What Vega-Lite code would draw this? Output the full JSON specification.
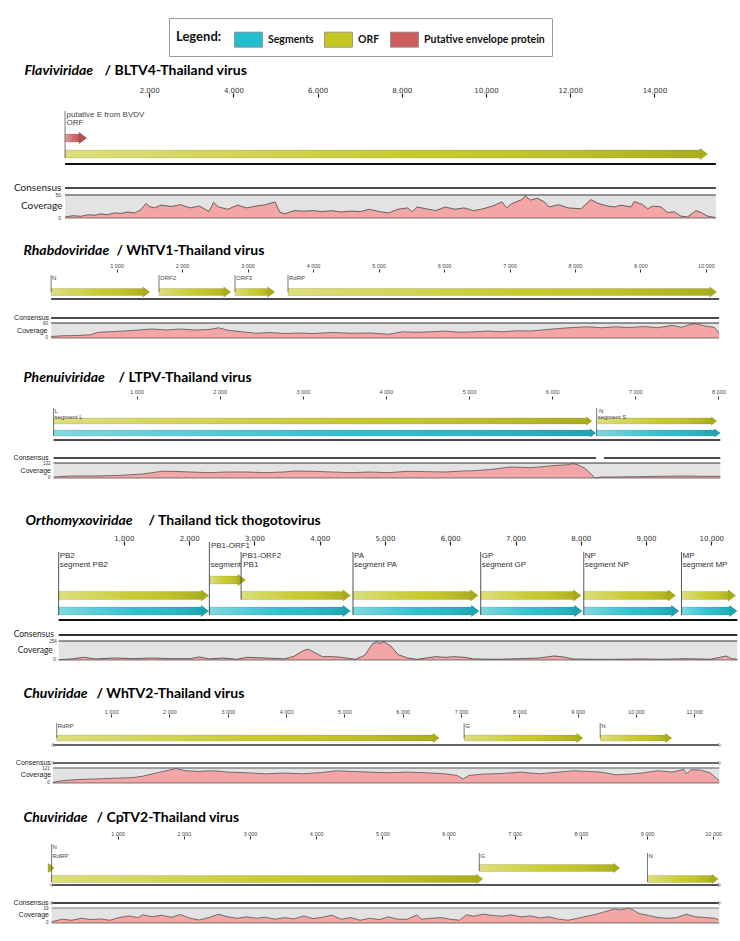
{
"$schema":"https://vega.github.io/schema/vega-lite/v6.json",
"padding":{"left":13,"top":17,"right":2,"bottom":19},
"background":"white",
"spacing":12,
"bounds":"flush",
"config":{"view":{"stroke":null},"font":"Liberation Sans","axis":{"grid":false,"domain":false}},
"resolve":{"scale":{"color":"shared","x":"independent","y":"independent"},"legend":{"color":"shared"}},
"datasets":{
"g1":[{"start":1,"end":15460}],
"f1":[{"name":"ORF","start":1,"end":15270,"kind":"ORF","lane":1,"row":2},{"name":"putative E from BVDV","start":1,"end":520,"kind":"Putative envelope protein","lane":2,"row":1}],
"l1":[{"pos":1,"lane":1}],
"c1":[{"p":1,"c":2},{"p":182,"c":5},{"p":380,"c":3.7},{"p":539,"c":7},{"p":697,"c":6},{"p":855,"c":9},{"p":1014,"c":7},{"p":1172,"c":11},{"p":1330,"c":10},{"p":1489,"c":13},{"p":1647,"c":11},{"p":1805,"c":18},{"p":1924,"c":32},{"p":2003,"c":25},{"p":2122,"c":22},{"p":2280,"c":28},{"p":2521,"c":25},{"p":2746,"c":29},{"p":2970,"c":22},{"p":3195,"c":26},{"p":3419,"c":14},{"p":3531,"c":34},{"p":3644,"c":24},{"p":3868,"c":19},{"p":4093,"c":28},{"p":4317,"c":22},{"p":4541,"c":26},{"p":4766,"c":29},{"p":4990,"c":35},{"p":5103,"c":13},{"p":5215,"c":9},{"p":5440,"c":16},{"p":5664,"c":15},{"p":5889,"c":16},{"p":6113,"c":14},{"p":6338,"c":16},{"p":6562,"c":13},{"p":6787,"c":15},{"p":7011,"c":14},{"p":7236,"c":19},{"p":7460,"c":14},{"p":7685,"c":11},{"p":7909,"c":19},{"p":8134,"c":22},{"p":8246,"c":14},{"p":8358,"c":24},{"p":8583,"c":20},{"p":8807,"c":16},{"p":9032,"c":24},{"p":9256,"c":19},{"p":9481,"c":22},{"p":9705,"c":16},{"p":9930,"c":20},{"p":10154,"c":26},{"p":10379,"c":35},{"p":10491,"c":22},{"p":10603,"c":31},{"p":10828,"c":39},{"p":10940,"c":48},{"p":11052,"c":39},{"p":11220,"c":43},{"p":11389,"c":35},{"p":11501,"c":24},{"p":11726,"c":29},{"p":11950,"c":22},{"p":12257,"c":20},{"p":12494,"c":40},{"p":12653,"c":32},{"p":12890,"c":26},{"p":13048,"c":24},{"p":13207,"c":28},{"p":13444,"c":24},{"p":13523,"c":36},{"p":13721,"c":29},{"p":13840,"c":20},{"p":13959,"c":26},{"p":14157,"c":24},{"p":14315,"c":12},{"p":14473,"c":13.5},{"p":14632,"c":4},{"p":14790,"c":2.4},{"p":14988,"c":16},{"p":15107,"c":12},{"p":15266,"c":4},{"p":15423,"c":1.6},{"p":15460,"c":1}],
"g2":[{"start":1,"end":10200}],
"f2":[{"name":"N","start":1,"end":1511,"kind":"ORF","lane":1,"row":1},{"name":"ORF2","start":1649,"end":2748,"kind":"ORF","lane":1,"row":1},{"name":"ORF3","start":2809,"end":3420,"kind":"ORF","lane":1,"row":1},{"name":"RdRP","start":3618,"end":10168,"kind":"ORF","lane":1,"row":1}],
"l2":[{"pos":1,"lane":1},{"pos":1649,"lane":1},{"pos":2809,"lane":1},{"pos":3618,"lane":1}],
"c2":[{"p":1,"c":6},{"p":175,"c":9},{"p":391,"c":10},{"p":608,"c":13},{"p":716,"c":23},{"p":896,"c":25},{"p":1113,"c":28},{"p":1329,"c":32},{"p":1546,"c":36},{"p":1762,"c":32},{"p":1979,"c":36},{"p":2195,"c":32},{"p":2412,"c":34},{"p":2556,"c":41},{"p":2700,"c":31},{"p":2917,"c":25},{"p":3133,"c":19},{"p":3350,"c":22},{"p":3566,"c":18},{"p":3782,"c":20},{"p":3999,"c":18},{"p":4288,"c":22},{"p":4576,"c":19},{"p":4865,"c":20},{"p":5153,"c":15},{"p":5370,"c":25},{"p":5586,"c":23},{"p":5803,"c":25},{"p":6019,"c":28},{"p":6236,"c":23},{"p":6452,"c":25},{"p":6668,"c":28},{"p":6885,"c":25},{"p":7101,"c":29},{"p":7318,"c":28},{"p":7534,"c":33},{"p":7751,"c":38},{"p":7967,"c":42},{"p":8184,"c":45},{"p":8400,"c":41},{"p":8617,"c":45},{"p":8833,"c":42},{"p":9049,"c":46},{"p":9266,"c":41},{"p":9482,"c":51},{"p":9627,"c":43},{"p":9771,"c":55},{"p":9843,"c":57},{"p":9987,"c":48},{"p":10132,"c":42},{"p":10200,"c":19}],
"g3":[{"start":1,"end":8023}],
"cs3":[{"start":1,"end":6527},{"start":6624,"end":8023}],
"f3":[{"name":"L","start":1,"end":6482,"kind":"ORF","lane":2,"row":1},{"name":"segment L","start":1,"end":6527,"kind":"Segments","lane":1,"row":2},{"name":"N","start":6550,"end":7984,"kind":"ORF","lane":2,"row":1},{"name":"segment S","start":6535,"end":8023,"kind":"Segments","lane":1,"row":2}],
"l3":[{"pos":1,"lane":1},{"pos":6535,"lane":1}],
"c3":[{"p":1,"c":9},{"p":221,"c":18},{"p":505,"c":18},{"p":790,"c":23},{"p":1074,"c":35},{"p":1188,"c":47},{"p":1301,"c":59},{"p":1415,"c":59},{"p":1642,"c":53},{"p":1870,"c":47},{"p":2097,"c":53},{"p":2325,"c":53},{"p":2552,"c":47},{"p":2780,"c":53},{"p":2893,"c":62},{"p":3121,"c":59},{"p":3348,"c":53},{"p":3576,"c":47},{"p":3803,"c":53},{"p":4031,"c":47},{"p":4258,"c":59},{"p":4485,"c":56},{"p":4713,"c":53},{"p":4940,"c":62},{"p":5054,"c":64},{"p":5281,"c":76},{"p":5395,"c":88},{"p":5509,"c":97},{"p":5623,"c":94},{"p":5736,"c":91},{"p":5850,"c":97},{"p":5964,"c":106},{"p":6077,"c":112},{"p":6191,"c":117},{"p":6248,"c":126},{"p":6305,"c":117},{"p":6390,"c":88},{"p":6464,"c":38},{"p":6504,"c":6},{"p":6527,"c":0},{"p":6589,"c":9},{"p":6760,"c":9},{"p":7044,"c":12},{"p":7328,"c":15},{"p":7613,"c":18},{"p":7783,"c":15},{"p":8011,"c":15},{"p":8023,"c":12}],
"g4":[{"start":1,"end":10398}],
"f4":[{"name":"PB2","start":1,"end":2303,"kind":"ORF","lane":2,"row":2},{"name":"segment PB2","start":1,"end":2303,"kind":"Segments","lane":1,"row":3},{"name":"PB1-ORF1","start":2318,"end":2868,"kind":"ORF","lane":3,"row":1},{"name":"PB1-ORF2","start":2796,"end":4475,"kind":"ORF","lane":2,"row":2},{"name":"segment PB1","start":2310,"end":4475,"kind":"Segments","lane":1,"row":3},{"name":"PA","start":4510,"end":6430,"kind":"ORF","lane":2,"row":2},{"name":"segment PA","start":4510,"end":6445,"kind":"Segments","lane":1,"row":3},{"name":"GP","start":6467,"end":8009,"kind":"ORF","lane":2,"row":2},{"name":"segment GP","start":6467,"end":8024,"kind":"Segments","lane":1,"row":3},{"name":"NP","start":8046,"end":9456,"kind":"ORF","lane":2,"row":2},{"name":"segment NP","start":8046,"end":9508,"kind":"Segments","lane":1,"row":3},{"name":"MP","start":9543,"end":10377,"kind":"ORF","lane":2,"row":2},{"name":"segment MP","start":9543,"end":10398,"kind":"Segments","lane":1,"row":3}],
"l4":[{"pos":1,"lane":1,"top":2},{"pos":2310,"lane":1,"top":1},{"pos":2796,"lane":2,"top":2},{"pos":4510,"lane":1,"top":2},{"pos":6467,"lane":1,"top":2},{"pos":8046,"lane":1,"top":2},{"pos":9543,"lane":1,"top":2}],
"c4":[{"p":1,"c":4.5},{"p":204,"c":14},{"p":385,"c":36},{"p":566,"c":14},{"p":855,"c":27},{"p":1145,"c":18},{"p":1435,"c":27},{"p":1724,"c":18},{"p":2014,"c":18},{"p":2159,"c":41},{"p":2303,"c":14},{"p":2521,"c":27},{"p":2738,"c":9},{"p":2883,"c":36},{"p":3172,"c":27},{"p":3462,"c":14},{"p":3607,"c":50},{"p":3752,"c":127},{"p":3824,"c":145},{"p":3933,"c":95},{"p":4041,"c":45},{"p":4186,"c":45},{"p":4331,"c":36},{"p":4548,"c":9},{"p":4693,"c":64},{"p":4802,"c":209},{"p":4874,"c":245},{"p":4910,"c":218},{"p":4983,"c":245},{"p":5091,"c":186},{"p":5200,"c":73},{"p":5345,"c":27},{"p":5490,"c":9},{"p":5634,"c":27},{"p":5779,"c":45},{"p":5924,"c":36},{"p":6069,"c":45},{"p":6214,"c":36},{"p":6358,"c":14},{"p":6720,"c":9},{"p":7083,"c":18},{"p":7372,"c":27},{"p":7589,"c":54},{"p":7734,"c":41},{"p":7879,"c":14},{"p":8169,"c":9},{"p":8531,"c":9},{"p":8893,"c":14},{"p":9255,"c":9},{"p":9617,"c":18},{"p":9979,"c":9},{"p":10160,"c":41},{"p":10232,"c":54},{"p":10305,"c":18},{"p":10398,"c":9}],
"g5":[{"start":1,"end":11428}],
"f5":[{"name":"RdRP","start":68,"end":6632,"kind":"ORF","lane":1,"row":1},{"name":"G","start":7053,"end":9095,"kind":"ORF","lane":1,"row":1},{"name":"N","start":9386,"end":10617,"kind":"ORF","lane":1,"row":1}],
"l5":[{"pos":68,"lane":1},{"pos":7053,"lane":1},{"pos":9386,"lane":1}],
"c5":[{"p":1,"c":5.5},{"p":166,"c":19},{"p":409,"c":27.5},{"p":733,"c":33},{"p":1057,"c":38.5},{"p":1381,"c":44},{"p":1543,"c":55},{"p":1786,"c":82.5},{"p":2029,"c":107},{"p":2110,"c":118},{"p":2151,"c":113},{"p":2273,"c":99},{"p":2516,"c":93.5},{"p":2759,"c":99},{"p":3002,"c":88},{"p":3326,"c":82.5},{"p":3650,"c":74},{"p":3974,"c":80},{"p":4299,"c":74},{"p":4623,"c":85},{"p":4866,"c":99},{"p":5109,"c":93.5},{"p":5433,"c":88},{"p":5757,"c":82.5},{"p":6081,"c":88},{"p":6406,"c":82.5},{"p":6730,"c":74},{"p":6932,"c":60.5},{"p":7038,"c":33},{"p":7135,"c":60.5},{"p":7378,"c":71.5},{"p":7702,"c":77},{"p":8026,"c":88},{"p":8351,"c":74},{"p":8675,"c":88},{"p":8918,"c":99},{"p":9161,"c":93.5},{"p":9404,"c":88},{"p":9647,"c":66},{"p":9890,"c":71.5},{"p":10133,"c":82.5},{"p":10377,"c":99},{"p":10620,"c":88},{"p":10822,"c":110},{"p":10863,"c":74},{"p":10944,"c":107},{"p":11106,"c":104.5},{"p":11268,"c":82.5},{"p":11428,"c":19}],
"g6":[{"start":1,"end":10092}],
"f6":[{"name":"N","start":1,"end":45,"kind":"ORF","lane":2,"row":1},{"name":"RdRP","start":1,"end":6522,"kind":"ORF","lane":1,"row":2},{"name":"G","start":6465,"end":8593,"kind":"ORF","lane":2,"row":2},{"name":"N","start":9007,"end":10079,"kind":"ORF","lane":1,"row":2}],
"l6":[{"pos":1,"lane":1,"top":1},{"pos":6465,"lane":2,"top":2},{"pos":9007,"lane":1,"top":2}],
"c6":[{"p":1,"c":1.7},{"p":165,"c":4.8},{"p":308,"c":3.5},{"p":451,"c":6},{"p":594,"c":4.3},{"p":737,"c":5.2},{"p":880,"c":3.5},{"p":1023,"c":6.9},{"p":1165,"c":9},{"p":1308,"c":6.9},{"p":1380,"c":10.4},{"p":1522,"c":7.8},{"p":1665,"c":9.9},{"p":1808,"c":7.3},{"p":1951,"c":10.8},{"p":2094,"c":6},{"p":2237,"c":3.9},{"p":2379,"c":6.9},{"p":2522,"c":11.2},{"p":2665,"c":7.8},{"p":2808,"c":6},{"p":2951,"c":7.8},{"p":3094,"c":6},{"p":3237,"c":7.3},{"p":3379,"c":4.8},{"p":3522,"c":6.9},{"p":3665,"c":5.2},{"p":3808,"c":9},{"p":3951,"c":5.6},{"p":4094,"c":7.3},{"p":4236,"c":9.9},{"p":4379,"c":4.8},{"p":4522,"c":6.9},{"p":4665,"c":3.5},{"p":4808,"c":6},{"p":4951,"c":4.3},{"p":5093,"c":7.8},{"p":5236,"c":4.8},{"p":5379,"c":4.8},{"p":5522,"c":10.4},{"p":5593,"c":4.8},{"p":5736,"c":6},{"p":5879,"c":6.9},{"p":6022,"c":4.8},{"p":6165,"c":3.5},{"p":6272,"c":10.4},{"p":6379,"c":8.6},{"p":6522,"c":11.2},{"p":6665,"c":9.5},{"p":6808,"c":8.6},{"p":6950,"c":10.4},{"p":7093,"c":7.8},{"p":7236,"c":9},{"p":7379,"c":6.5},{"p":7522,"c":7.8},{"p":7665,"c":4.8},{"p":7807,"c":3.5},{"p":7950,"c":6},{"p":8093,"c":8.6},{"p":8236,"c":11.2},{"p":8379,"c":14.7},{"p":8522,"c":18.1},{"p":8593,"c":16.4},{"p":8736,"c":19},{"p":8879,"c":12.1},{"p":9022,"c":9.5},{"p":9165,"c":6.9},{"p":9307,"c":6},{"p":9450,"c":6.9},{"p":9593,"c":11.2},{"p":9736,"c":7.8},{"p":9879,"c":6.9},{"p":10021,"c":6},{"p":10078,"c":4.3}]
},
"vconcat":[
{"width":690,"height":67,"resolve":{"axis":{"x":"independent","y":"independent"}},"layer":[
 {"data":{"name":"g1"},"mark":{"type":"rule","color":"#111","strokeWidth":1.8,"yOffset":10},"encoding":{
  "x":{"field":"start","type":"quantitative","scale":{"domain":[-380,16010],"nice":false,"zero":false},"axis":{"orient":"top","values":[2000,4000,6000,8000,10000,12000,14000],"labelExpr":"format(datum.value, ',')","labelFont":"DejaVu Sans","labelFontSize":7,"labelColor":"#333","labelPadding":0,"ticks":true,"tickSize":4,"tickColor":"#222","tickWidth":1.2,"domain":false,"grid":false,"title":"/ BLTV4-Thailand virus","titleX":55,"titleY":-27,"titleAlign":"left","titleBaseline":"middle","titleAngle":0,"titleFont":"Lato","titleFontSize":14,"titleFontWeight":"bold","titleColor":"#000"}},
  "x2":{"field":"end"},
  "y":{"datum":1,"type":"quantitative","scale":{"domain":[0.375,4.5625],"nice":false,"zero":false},"axis":{"title":"Flaviviridae","titleX":-25,"titleY":-27,"titleAlign":"left","titleBaseline":"middle","titleAngle":0,"titleFont":"Lato","titleFontSize":14,"titleFontWeight":"bold","titleFontStyle":"italic","titleColor":"#000","labels":false,"ticks":false,"domain":false,"grid":false}}}},
 {"data":{"name":"f1"},"mark":{"type":"rect","yOffset":-4,"y2Offset":4,"x2Offset":-5.5},"encoding":{
  "x":{"field":"start","type":"quantitative","scale":{"domain":[-380,16010],"nice":false,"zero":false},"axis":null},"x2":{"field":"end"},
  "y":{"field":"lane","type":"quantitative","scale":{"domain":[0.375,4.5625],"nice":false,"zero":false},"axis":null},"y2":{"field":"lane"},
  "color":{"field":"kind","type":"nominal","title":"Legend:","scale":{"domain":["Segments","ORF","Putative envelope protein"],"range":["#24bdcc","#c4c721","#cd5d5d"]},
   "legend":{"orient":"none","legendX":120,"legendY":-79,"direction":"horizontal","title":"Legend:","titleOrient":"left","titleFont":"Lato","titleFontSize":13,"titleFontWeight":"bold","titleColor":"#111","titlePadding":12,"labelFont":"Lato","labelFontSize":10.5,"labelFontWeight":"bold","labelColor":"#111","labelOffset":5,"symbolType":"M -1 -0.54 L 1 -0.54 L 1 0.54 L -1 0.54 Z","symbolSize":784,"symbolStrokeColor":"#8a8a8a","symbolStrokeWidth":0.8,"symbolOpacity":1,"columnPadding":8,"strokeColor":"#999","fillColor":"#ffffff","padding":7}}}},
 {"data":{"name":"f1"},"mark":{"type":"rect","yOffset":-4,"y2Offset":4,"x2Offset":-5.5,"fill":{"gradient":"linear","x1":0,"y1":0,"x2":1,"y2":0,"stops":[{"offset":0,"color":"rgba(255,255,255,0.42)"},{"offset":0.55,"color":"rgba(255,255,255,0.05)"},{"offset":1,"color":"rgba(0,0,0,0.13)"}]},"stroke":"rgba(0,0,0,0.2)","strokeWidth":0.5},"encoding":{
  "x":{"field":"start","type":"quantitative","scale":{"domain":[-380,16010],"nice":false,"zero":false},"axis":null},"x2":{"field":"end"},
  "y":{"field":"lane","type":"quantitative","scale":{"domain":[0.375,4.5625],"nice":false,"zero":false},"axis":null},"y2":{"field":"lane"}}},
 {"data":{"name":"f1"},"mark":{"type":"point","shape":"M -0.67 -1 L 0.67 0 L -0.67 1 Z","size":144,"filled":true,"opacity":1,"xOffset":-4,"strokeWidth":0},"encoding":{
  "x":{"field":"end","type":"quantitative","scale":{"domain":[-380,16010],"nice":false,"zero":false},"axis":null},
  "y":{"field":"lane","type":"quantitative","scale":{"domain":[0.375,4.5625],"nice":false,"zero":false},"axis":null},
  "color":{"field":"kind","type":"nominal","scale":{"domain":["Segments","ORF","Putative envelope protein"],"range":["#24bdcc","#c4c721","#cd5d5d"]},"legend":null}}},
 {"data":{"name":"f1"},"mark":{"type":"point","shape":"M -0.67 -1 L 0.67 0 L -0.67 1 Z","size":144,"filled":true,"color":"#000","opacity":0.14,"xOffset":-4,"strokeWidth":0},"encoding":{
  "x":{"field":"end","type":"quantitative","scale":{"domain":[-380,16010],"nice":false,"zero":false},"axis":null},
  "y":{"field":"lane","type":"quantitative","scale":{"domain":[0.375,4.5625],"nice":false,"zero":false},"axis":null}}},
 {"data":{"name":"l1"},"mark":{"type":"rule","color":"#555","strokeWidth":0.8,"yOffset":4,"y2Offset":-27},"encoding":{
  "x":{"field":"pos","type":"quantitative","scale":{"domain":[-380,16010],"nice":false,"zero":false},"axis":null},
  "y":{"field":"lane","type":"quantitative","scale":{"domain":[0.375,4.5625],"nice":false,"zero":false},"axis":null},"y2":{"datum":2}}},
 {"data":{"name":"f1"},"transform":[{"filter":"datum.row==1"}],"mark":{"type":"text","align":"left","baseline":"middle","dx":1.5,"dy":-23,"fontSize":8,"color":"#444"},"encoding":{
  "x":{"field":"start","type":"quantitative","scale":{"domain":[-380,16010],"nice":false,"zero":false},"axis":null},
  "y":{"datum":2,"type":"quantitative","scale":{"domain":[0.375,4.5625],"nice":false,"zero":false},"axis":null},"text":{"field":"name"}}},
 {"data":{"name":"f1"},"transform":[{"filter":"datum.row==2"}],"mark":{"type":"text","align":"left","baseline":"middle","dx":1.5,"dy":-15,"fontSize":8,"color":"#444"},"encoding":{
  "x":{"field":"start","type":"quantitative","scale":{"domain":[-380,16010],"nice":false,"zero":false},"axis":null},
  "y":{"datum":2,"type":"quantitative","scale":{"domain":[0.375,4.5625],"nice":false,"zero":false},"axis":null},"text":{"field":"name"}}}
]},
{"width":690,"height":84,"layer":[
 {"data":{"name":"g1"},"mark":{"type":"rect","color":"#e3e3e3"},"encoding":{"x":{"field":"start","type":"quantitative","scale":{"domain":[-380,16010],"nice":false,"zero":false},"axis":null},"x2":{"field":"end"},"y":{"datum":0,"type":"quantitative","scale":{"domain":[-91.3,91.3],"nice":false,"zero":false},"axis":null},"y2":{"datum":50}}},
 {"data":{"name":"c1"},"mark":{"type":"area","color":"#f4a6a6"},"encoding":{"x":{"field":"p","type":"quantitative","scale":{"domain":[-380,16010],"nice":false,"zero":false},"axis":null},"y":{"field":"c","type":"quantitative","scale":{"domain":[-91.3,91.3],"nice":false,"zero":false},"axis":null},"y2":{"datum":0}}},
 {"data":{"name":"c1"},"mark":{"type":"line","color":"#444","strokeWidth":0.8},"encoding":{"x":{"field":"p","type":"quantitative","scale":{"domain":[-380,16010],"nice":false,"zero":false},"axis":null},"y":{"field":"c","type":"quantitative","scale":{"domain":[-91.3,91.3],"nice":false,"zero":false},"axis":null}}},
 {"data":{"name":"g1"},"mark":{"type":"rule","color":"#333","strokeWidth":1},"encoding":{"x":{"field":"start","type":"quantitative","scale":{"domain":[-380,16010],"nice":false,"zero":false},"axis":null},"x2":{"field":"end"},"y":{"datum":50,"type":"quantitative","scale":{"domain":[-91.3,91.3],"nice":false,"zero":false},"axis":null}}},
 {"data":{"name":"g1"},"mark":{"type":"rule","color":"#555","strokeWidth":0.8},"encoding":{"x":{"field":"start","type":"quantitative","scale":{"domain":[-380,16010],"nice":false,"zero":false},"axis":null},"x2":{"field":"end"},"y":{"datum":0,"type":"quantitative","scale":{"domain":[-91.3,91.3],"nice":false,"zero":false},"axis":null}}},
 {"data":{"name":"g1"},"mark":{"type":"rule","color":"#111","strokeWidth":1.6,"yOffset":-7},"encoding":{"x":{"field":"start","type":"quantitative","scale":{"domain":[-380,16010],"nice":false,"zero":false},"axis":null},"x2":{"field":"end"},"y":{"datum":50,"type":"quantitative","scale":{"domain":[-91.3,91.3],"nice":false,"zero":false},"axis":null}}},
 {"data":{"name":"g1"},"mark":{"type":"text","text":"Consensus","align":"left","baseline":"middle","dx":-51,"dy":-7,"fontSize":10,"font":"Lato","color":"#222"},"encoding":{"x":{"field":"start","type":"quantitative","scale":{"domain":[-380,16010],"nice":false,"zero":false},"axis":null},"y":{"datum":50,"type":"quantitative","scale":{"domain":[-91.3,91.3],"nice":false,"zero":false},"axis":null}}},
 {"data":{"name":"g1"},"mark":{"type":"text","text":"Coverage","align":"left","baseline":"middle","dx":-44,"fontSize":10,"font":"Lato","color":"#222"},"encoding":{"x":{"field":"start","type":"quantitative","scale":{"domain":[-380,16010],"nice":false,"zero":false},"axis":null},"y":{"datum":25,"type":"quantitative","scale":{"domain":[-91.3,91.3],"nice":false,"zero":false},"axis":null}}},
 {"data":{"name":"g1"},"mark":{"type":"text","text":"50","align":"right","baseline":"middle","dx":-4,"fontSize":5,"color":"#333"},"encoding":{"x":{"field":"start","type":"quantitative","scale":{"domain":[-380,16010],"nice":false,"zero":false},"axis":null},"y":{"datum":50,"type":"quantitative","scale":{"domain":[-91.3,91.3],"nice":false,"zero":false},"axis":null}}},
 {"data":{"name":"g1"},"mark":{"type":"text","text":"0","align":"right","baseline":"middle","dx":-4,"fontSize":5,"color":"#333"},"encoding":{"x":{"field":"start","type":"quantitative","scale":{"domain":[-380,16010],"nice":false,"zero":false},"axis":null},"y":{"datum":0,"type":"quantitative","scale":{"domain":[-91.3,91.3],"nice":false,"zero":false},"axis":null}}}
]},
{"width":690,"height":27,"resolve":{"axis":{"x":"independent","y":"independent"}},"layer":[
 {"data":{"name":"g2"},"mark":{"type":"rule","color":"#111","strokeWidth":1.6,"yOffset":7},"encoding":{
  "x":{"field":"start","type":"quantitative","scale":{"domain":[-31,10504],"nice":false,"zero":false},"axis":{"orient":"top","values":[1000,2000,3000,4000,5000,6000,7000,8000,9000,10000],"labelExpr":"replace(format(datum.value, ','), ',', ' ')","labelFontSize":5.5,"labelColor":"#444","labelPadding":0.5,"ticks":true,"tickSize":3,"tickColor":"#333","tickWidth":1,"domain":false,"grid":false,"title":"/ WhTV1-Thailand virus","titleX":67,"titleY":-22,"titleAlign":"left","titleBaseline":"middle","titleAngle":0,"titleFont":"Lato","titleFontSize":14,"titleFontWeight":"bold","titleColor":"#000"}},
  "x2":{"field":"end"},
  "y":{"datum":1,"type":"quantitative","scale":{"domain":[0.5625,2.25],"nice":false,"zero":false},"axis":{"title":"Rhabdoviridae","titleX":-26,"titleY":-22,"titleAlign":"left","titleBaseline":"middle","titleAngle":0,"titleFont":"Lato","titleFontSize":14,"titleFontWeight":"bold","titleFontStyle":"italic","titleColor":"#000","labels":false,"ticks":false,"domain":false,"grid":false}}}},
 {"data":{"name":"f2"},"mark":{"type":"rect","yOffset":-3.5,"y2Offset":3.5,"x2Offset":-5},"encoding":{
  "x":{"field":"start","type":"quantitative","scale":{"domain":[-31,10504],"nice":false,"zero":false},"axis":null},"x2":{"field":"end"},
  "y":{"field":"lane","type":"quantitative","scale":{"domain":[0.5625,2.25],"nice":false,"zero":false},"axis":null},"y2":{"field":"lane"},
  "color":{"field":"kind","type":"nominal","scale":{"domain":["Segments","ORF","Putative envelope protein"],"range":["#24bdcc","#c4c721","#cd5d5d"]},"legend":null}}},
 {"data":{"name":"f2"},"mark":{"type":"rect","yOffset":-3.5,"y2Offset":3.5,"x2Offset":-5,"fill":{"gradient":"linear","x1":0,"y1":0,"x2":1,"y2":0,"stops":[{"offset":0,"color":"rgba(255,255,255,0.42)"},{"offset":0.55,"color":"rgba(255,255,255,0.05)"},{"offset":1,"color":"rgba(0,0,0,0.13)"}]},"stroke":"rgba(0,0,0,0.2)","strokeWidth":0.5},"encoding":{
  "x":{"field":"start","type":"quantitative","scale":{"domain":[-31,10504],"nice":false,"zero":false},"axis":null},"x2":{"field":"end"},
  "y":{"field":"lane","type":"quantitative","scale":{"domain":[0.5625,2.25],"nice":false,"zero":false},"axis":null},"y2":{"field":"lane"}}},
 {"data":{"name":"f2"},"mark":{"type":"point","shape":"M -0.67 -1 L 0.67 0 L -0.67 1 Z","size":121,"filled":true,"opacity":1,"xOffset":-3.7,"strokeWidth":0},"encoding":{
  "x":{"field":"end","type":"quantitative","scale":{"domain":[-31,10504],"nice":false,"zero":false},"axis":null},
  "y":{"field":"lane","type":"quantitative","scale":{"domain":[0.5625,2.25],"nice":false,"zero":false},"axis":null},
  "color":{"field":"kind","type":"nominal","scale":{"domain":["Segments","ORF","Putative envelope protein"],"range":["#24bdcc","#c4c721","#cd5d5d"]},"legend":null}}},
 {"data":{"name":"f2"},"mark":{"type":"point","shape":"M -0.67 -1 L 0.67 0 L -0.67 1 Z","size":121,"filled":true,"color":"#000","opacity":0.14,"xOffset":-3.7,"strokeWidth":0},"encoding":{
  "x":{"field":"end","type":"quantitative","scale":{"domain":[-31,10504],"nice":false,"zero":false},"axis":null},
  "y":{"field":"lane","type":"quantitative","scale":{"domain":[0.5625,2.25],"nice":false,"zero":false},"axis":null}}},
 {"data":{"name":"l2"},"mark":{"type":"rule","color":"#555","strokeWidth":0.8,"y2Offset":-17},"encoding":{
  "x":{"field":"pos","type":"quantitative","scale":{"domain":[-31,10504],"nice":false,"zero":false},"axis":null},
  "y":{"field":"lane","type":"quantitative","scale":{"domain":[0.5625,2.25],"nice":false,"zero":false},"axis":null},"y2":{"datum":1}}},
 {"data":{"name":"f2"},"mark":{"type":"text","align":"left","baseline":"middle","dx":1,"dy":-14,"fontSize":6,"color":"#444"},"encoding":{
  "x":{"field":"start","type":"quantitative","scale":{"domain":[-31,10504],"nice":false,"zero":false},"axis":null},
  "y":{"datum":1,"type":"quantitative","scale":{"domain":[0.5625,2.25],"nice":false,"zero":false},"axis":null},"text":{"field":"name"}}}
]},
{"width":690,"height":76,"layer":[
 {"data":{"name":"g2"},"mark":{"type":"rect","color":"#e3e3e3"},"encoding":{"x":{"field":"start","type":"quantitative","scale":{"domain":[-31,10504],"nice":false,"zero":false},"axis":null},"x2":{"field":"end"},"y":{"datum":0,"type":"quantitative","scale":{"domain":[-196,108],"nice":false,"zero":false},"axis":null},"y2":{"datum":60}}},
 {"data":{"name":"c2"},"mark":{"type":"area","color":"#f4a6a6"},"encoding":{"x":{"field":"p","type":"quantitative","scale":{"domain":[-31,10504],"nice":false,"zero":false},"axis":null},"y":{"field":"c","type":"quantitative","scale":{"domain":[-196,108],"nice":false,"zero":false},"axis":null},"y2":{"datum":0}}},
 {"data":{"name":"c2"},"mark":{"type":"line","color":"#444","strokeWidth":0.7},"encoding":{"x":{"field":"p","type":"quantitative","scale":{"domain":[-31,10504],"nice":false,"zero":false},"axis":null},"y":{"field":"c","type":"quantitative","scale":{"domain":[-196,108],"nice":false,"zero":false},"axis":null}}},
 {"data":{"name":"g2"},"mark":{"type":"rule","color":"#333","strokeWidth":1},"encoding":{"x":{"field":"start","type":"quantitative","scale":{"domain":[-31,10504],"nice":false,"zero":false},"axis":null},"x2":{"field":"end"},"y":{"datum":60,"type":"quantitative","scale":{"domain":[-196,108],"nice":false,"zero":false},"axis":null}}},
 {"data":{"name":"g2"},"mark":{"type":"rule","color":"#555","strokeWidth":0.8},"encoding":{"x":{"field":"start","type":"quantitative","scale":{"domain":[-31,10504],"nice":false,"zero":false},"axis":null},"x2":{"field":"end"},"y":{"datum":0,"type":"quantitative","scale":{"domain":[-196,108],"nice":false,"zero":false},"axis":null}}},
 {"data":{"name":"g2"},"mark":{"type":"rule","color":"#111","strokeWidth":1.5,"yOffset":-5},"encoding":{"x":{"field":"start","type":"quantitative","scale":{"domain":[-31,10504],"nice":false,"zero":false},"axis":null},"x2":{"field":"end"},"y":{"datum":60,"type":"quantitative","scale":{"domain":[-196,108],"nice":false,"zero":false},"axis":null}}},
 {"data":{"name":"g2"},"mark":{"type":"text","text":"Consensus","align":"left","baseline":"middle","dx":-37,"dy":-5,"fontSize":7,"color":"#222"},"encoding":{"x":{"field":"start","type":"quantitative","scale":{"domain":[-31,10504],"nice":false,"zero":false},"axis":null},"y":{"datum":60,"type":"quantitative","scale":{"domain":[-196,108],"nice":false,"zero":false},"axis":null}}},
 {"data":{"name":"g2"},"mark":{"type":"text","text":"Coverage","align":"left","baseline":"middle","dx":-34,"fontSize":7,"color":"#222"},"encoding":{"x":{"field":"start","type":"quantitative","scale":{"domain":[-31,10504],"nice":false,"zero":false},"axis":null},"y":{"datum":30,"type":"quantitative","scale":{"domain":[-196,108],"nice":false,"zero":false},"axis":null}}},
 {"data":{"name":"g2"},"mark":{"type":"text","text":"60","align":"right","baseline":"middle","dx":-3,"dy":1,"fontSize":4.5,"color":"#333"},"encoding":{"x":{"field":"start","type":"quantitative","scale":{"domain":[-31,10504],"nice":false,"zero":false},"axis":null},"y":{"datum":60,"type":"quantitative","scale":{"domain":[-196,108],"nice":false,"zero":false},"axis":null}}},
 {"data":{"name":"g2"},"mark":{"type":"text","text":"0","align":"right","baseline":"middle","dx":-3,"fontSize":4.5,"color":"#333"},"encoding":{"x":{"field":"start","type":"quantitative","scale":{"domain":[-31,10504],"nice":false,"zero":false},"axis":null},"y":{"datum":0,"type":"quantitative","scale":{"domain":[-196,108],"nice":false,"zero":false},"axis":null}}}
]},
{"width":690,"height":41,"resolve":{"axis":{"x":"independent","y":"independent"}},"layer":[
 {"data":{"name":"g3"},"mark":{"type":"rule","color":"#111","strokeWidth":1.6,"yOffset":7},"encoding":{
  "x":{"field":"start","type":"quantitative","scale":{"domain":[-54,8248],"nice":false,"zero":false},"axis":{"orient":"top","values":[1000,2000,3000,4000,5000,6000,7000,8000],"labelExpr":"replace(format(datum.value, ','), ',', ' ')","labelFontSize":5.5,"labelColor":"#444","labelPadding":1.5,"ticks":true,"tickSize":3,"tickColor":"#333","tickWidth":1,"domain":false,"grid":false,"title":"/ LTPV-Thailand virus","titleX":69,"titleY":-22,"titleAlign":"left","titleBaseline":"middle","titleAngle":0,"titleFont":"Lato","titleFontSize":14,"titleFontWeight":"bold","titleColor":"#000"}},
  "x2":{"field":"end"},
  "y":{"datum":1,"type":"quantitative","scale":{"domain":[0.41667,3.83333],"nice":false,"zero":false},"axis":{"title":"Phenuiviridae","titleX":-26,"titleY":-22,"titleAlign":"left","titleBaseline":"middle","titleAngle":0,"titleFont":"Lato","titleFontSize":14,"titleFontWeight":"bold","titleFontStyle":"italic","titleColor":"#000","labels":false,"ticks":false,"domain":false,"grid":false}}}},
 {"data":{"name":"f3"},"mark":{"type":"rect","yOffset":-3,"y2Offset":3,"x2Offset":-4.3},"encoding":{
  "x":{"field":"start","type":"quantitative","scale":{"domain":[-54,8248],"nice":false,"zero":false},"axis":null},"x2":{"field":"end"},
  "y":{"field":"lane","type":"quantitative","scale":{"domain":[0.41667,3.83333],"nice":false,"zero":false},"axis":null},"y2":{"field":"lane"},
  "color":{"field":"kind","type":"nominal","scale":{"domain":["Segments","ORF","Putative envelope protein"],"range":["#24bdcc","#c4c721","#cd5d5d"]},"legend":null}}},
 {"data":{"name":"f3"},"mark":{"type":"rect","yOffset":-3,"y2Offset":3,"x2Offset":-4.3,"fill":{"gradient":"linear","x1":0,"y1":0,"x2":1,"y2":0,"stops":[{"offset":0,"color":"rgba(255,255,255,0.42)"},{"offset":0.55,"color":"rgba(255,255,255,0.05)"},{"offset":1,"color":"rgba(0,0,0,0.13)"}]},"stroke":"rgba(0,0,0,0.2)","strokeWidth":0.5},"encoding":{
  "x":{"field":"start","type":"quantitative","scale":{"domain":[-54,8248],"nice":false,"zero":false},"axis":null},"x2":{"field":"end"},
  "y":{"field":"lane","type":"quantitative","scale":{"domain":[0.41667,3.83333],"nice":false,"zero":false},"axis":null},"y2":{"field":"lane"}}},
 {"data":{"name":"f3"},"mark":{"type":"point","shape":"M -0.67 -1 L 0.67 0 L -0.67 1 Z","size":81,"filled":true,"opacity":1,"xOffset":-3,"strokeWidth":0},"encoding":{
  "x":{"field":"end","type":"quantitative","scale":{"domain":[-54,8248],"nice":false,"zero":false},"axis":null},
  "y":{"field":"lane","type":"quantitative","scale":{"domain":[0.41667,3.83333],"nice":false,"zero":false},"axis":null},
  "color":{"field":"kind","type":"nominal","scale":{"domain":["Segments","ORF","Putative envelope protein"],"range":["#24bdcc","#c4c721","#cd5d5d"]},"legend":null}}},
 {"data":{"name":"f3"},"mark":{"type":"point","shape":"M -0.67 -1 L 0.67 0 L -0.67 1 Z","size":81,"filled":true,"color":"#000","opacity":0.14,"xOffset":-3,"strokeWidth":0},"encoding":{
  "x":{"field":"end","type":"quantitative","scale":{"domain":[-54,8248],"nice":false,"zero":false},"axis":null},
  "y":{"field":"lane","type":"quantitative","scale":{"domain":[0.41667,3.83333],"nice":false,"zero":false},"axis":null}}},
 {"data":{"name":"l3"},"mark":{"type":"rule","color":"#555","strokeWidth":0.8,"yOffset":3,"y2Offset":-13},"encoding":{
  "x":{"field":"pos","type":"quantitative","scale":{"domain":[-54,8248],"nice":false,"zero":false},"axis":null},
  "y":{"field":"lane","type":"quantitative","scale":{"domain":[0.41667,3.83333],"nice":false,"zero":false},"axis":null},"y2":{"datum":2}}},
 {"data":{"name":"f3"},"transform":[{"filter":"datum.row==1"}],"mark":{"type":"text","align":"left","baseline":"middle","dx":1,"dy":-10,"fontSize":6,"color":"#444"},"encoding":{
  "x":{"field":"start","type":"quantitative","scale":{"domain":[-54,8248],"nice":false,"zero":false},"axis":null},
  "y":{"datum":2,"type":"quantitative","scale":{"domain":[0.41667,3.83333],"nice":false,"zero":false},"axis":null},"text":{"field":"name"}}},
 {"data":{"name":"f3"},"transform":[{"filter":"datum.row==2"}],"mark":{"type":"text","align":"left","baseline":"middle","dx":1,"dy":-4.5,"fontSize":6,"color":"#444"},"encoding":{
  "x":{"field":"start","type":"quantitative","scale":{"domain":[-54,8248],"nice":false,"zero":false},"axis":null},
  "y":{"datum":2,"type":"quantitative","scale":{"domain":[0.41667,3.83333],"nice":false,"zero":false},"axis":null},"text":{"field":"name"}}}
]},
{"width":690,"height":81,"layer":[
 {"data":{"name":"g3"},"mark":{"type":"rect","color":"#e3e3e3"},"encoding":{"x":{"field":"start","type":"quantitative","scale":{"domain":[-54,8248],"nice":false,"zero":false},"axis":null},"x2":{"field":"end"},"y":{"datum":0,"type":"quantitative","scale":{"domain":[-484,228.8],"nice":false,"zero":false},"axis":null},"y2":{"datum":132}}},
 {"data":{"name":"c3"},"mark":{"type":"area","color":"#f4a6a6"},"encoding":{"x":{"field":"p","type":"quantitative","scale":{"domain":[-54,8248],"nice":false,"zero":false},"axis":null},"y":{"field":"c","type":"quantitative","scale":{"domain":[-484,228.8],"nice":false,"zero":false},"axis":null},"y2":{"datum":0}}},
 {"data":{"name":"c3"},"mark":{"type":"line","color":"#444","strokeWidth":0.7},"encoding":{"x":{"field":"p","type":"quantitative","scale":{"domain":[-54,8248],"nice":false,"zero":false},"axis":null},"y":{"field":"c","type":"quantitative","scale":{"domain":[-484,228.8],"nice":false,"zero":false},"axis":null}}},
 {"data":{"name":"g3"},"mark":{"type":"rule","color":"#333","strokeWidth":1},"encoding":{"x":{"field":"start","type":"quantitative","scale":{"domain":[-54,8248],"nice":false,"zero":false},"axis":null},"x2":{"field":"end"},"y":{"datum":132,"type":"quantitative","scale":{"domain":[-484,228.8],"nice":false,"zero":false},"axis":null}}},
 {"data":{"name":"g3"},"mark":{"type":"rule","color":"#555","strokeWidth":0.8},"encoding":{"x":{"field":"start","type":"quantitative","scale":{"domain":[-54,8248],"nice":false,"zero":false},"axis":null},"x2":{"field":"end"},"y":{"datum":0,"type":"quantitative","scale":{"domain":[-484,228.8],"nice":false,"zero":false},"axis":null}}},
 {"data":{"name":"cs3"},"mark":{"type":"rule","color":"#111","strokeWidth":1.5,"yOffset":-5},"encoding":{"x":{"field":"start","type":"quantitative","scale":{"domain":[-54,8248],"nice":false,"zero":false},"axis":null},"x2":{"field":"end"},"y":{"datum":132,"type":"quantitative","scale":{"domain":[-484,228.8],"nice":false,"zero":false},"axis":null}}},
 {"data":{"name":"g3"},"mark":{"type":"text","text":"Consensus","align":"left","baseline":"middle","dx":-40,"dy":-5,"fontSize":7,"color":"#222"},"encoding":{"x":{"field":"start","type":"quantitative","scale":{"domain":[-54,8248],"nice":false,"zero":false},"axis":null},"y":{"datum":132,"type":"quantitative","scale":{"domain":[-484,228.8],"nice":false,"zero":false},"axis":null}}},
 {"data":{"name":"g3"},"mark":{"type":"text","text":"Coverage","align":"left","baseline":"middle","dx":-33,"fontSize":7,"color":"#222"},"encoding":{"x":{"field":"start","type":"quantitative","scale":{"domain":[-54,8248],"nice":false,"zero":false},"axis":null},"y":{"datum":66,"type":"quantitative","scale":{"domain":[-484,228.8],"nice":false,"zero":false},"axis":null}}},
 {"data":{"name":"g3"},"mark":{"type":"text","text":"132","align":"right","baseline":"middle","dx":-3,"dy":1,"fontSize":4.5,"color":"#333"},"encoding":{"x":{"field":"start","type":"quantitative","scale":{"domain":[-54,8248],"nice":false,"zero":false},"axis":null},"y":{"datum":132,"type":"quantitative","scale":{"domain":[-484,228.8],"nice":false,"zero":false},"axis":null}}},
 {"data":{"name":"g3"},"mark":{"type":"text","text":"0","align":"right","baseline":"middle","dx":-3,"fontSize":4.5,"color":"#333"},"encoding":{"x":{"field":"start","type":"quantitative","scale":{"domain":[-54,8248],"nice":false,"zero":false},"axis":null},"y":{"datum":0,"type":"quantitative","scale":{"domain":[-484,228.8],"nice":false,"zero":false},"axis":null}}}
]},
{"width":690,"height":75,"resolve":{"axis":{"x":"independent","y":"independent"}},"layer":[
 {"data":{"name":"g4"},"mark":{"type":"rule","color":"#111","strokeWidth":2,"yOffset":9},"encoding":{
  "x":{"field":"start","type":"quantitative","scale":{"domain":[-147,10424],"nice":false,"zero":false},"axis":{"orient":"top","values":[1000,2000,3000,4000,5000,6000,7000,8000,9000,10000],"labelExpr":"format(datum.value, ',')","labelFont":"DejaVu Sans","labelFontSize":7,"labelColor":"#333","labelPadding":0,"ticks":true,"tickSize":4,"tickColor":"#222","tickWidth":1.2,"domain":false,"grid":false,"title":"/ Thailand tick thogotovirus","titleX":99,"titleY":-25,"titleAlign":"left","titleBaseline":"middle","titleAngle":0,"titleFont":"Lato","titleFontSize":14,"titleFontWeight":"bold","titleColor":"#000"}},
  "x2":{"field":"end"},
  "y":{"datum":1,"type":"quantitative","scale":{"domain":[0.41935,5.25806],"nice":false,"zero":false},"axis":{"title":"Orthomyxoviridae","titleX":-24,"titleY":-25,"titleAlign":"left","titleBaseline":"middle","titleAngle":0,"titleFont":"Lato","titleFontSize":14,"titleFontWeight":"bold","titleFontStyle":"italic","titleColor":"#000","labels":false,"ticks":false,"domain":false,"grid":false}}}},
 {"data":{"name":"f4"},"mark":{"type":"rect","yOffset":-4,"y2Offset":4,"x2Offset":-5.5},"encoding":{
  "x":{"field":"start","type":"quantitative","scale":{"domain":[-147,10424],"nice":false,"zero":false},"axis":null},"x2":{"field":"end"},
  "y":{"field":"lane","type":"quantitative","scale":{"domain":[0.41935,5.25806],"nice":false,"zero":false},"axis":null},"y2":{"field":"lane"},
  "color":{"field":"kind","type":"nominal","scale":{"domain":["Segments","ORF","Putative envelope protein"],"range":["#24bdcc","#c4c721","#cd5d5d"]},"legend":null}}},
 {"data":{"name":"f4"},"mark":{"type":"rect","yOffset":-4,"y2Offset":4,"x2Offset":-5.5,"fill":{"gradient":"linear","x1":0,"y1":0,"x2":1,"y2":0,"stops":[{"offset":0,"color":"rgba(255,255,255,0.42)"},{"offset":0.55,"color":"rgba(255,255,255,0.05)"},{"offset":1,"color":"rgba(0,0,0,0.13)"}]},"stroke":"rgba(0,0,0,0.2)","strokeWidth":0.5},"encoding":{
  "x":{"field":"start","type":"quantitative","scale":{"domain":[-147,10424],"nice":false,"zero":false},"axis":null},"x2":{"field":"end"},
  "y":{"field":"lane","type":"quantitative","scale":{"domain":[0.41935,5.25806],"nice":false,"zero":false},"axis":null},"y2":{"field":"lane"}}},
 {"data":{"name":"f4"},"mark":{"type":"point","shape":"M -0.67 -1 L 0.67 0 L -0.67 1 Z","size":144,"filled":true,"opacity":1,"xOffset":-4,"strokeWidth":0},"encoding":{
  "x":{"field":"end","type":"quantitative","scale":{"domain":[-147,10424],"nice":false,"zero":false},"axis":null},
  "y":{"field":"lane","type":"quantitative","scale":{"domain":[0.41935,5.25806],"nice":false,"zero":false},"axis":null},
  "color":{"field":"kind","type":"nominal","scale":{"domain":["Segments","ORF","Putative envelope protein"],"range":["#24bdcc","#c4c721","#cd5d5d"]},"legend":null}}},
 {"data":{"name":"f4"},"mark":{"type":"point","shape":"M -0.67 -1 L 0.67 0 L -0.67 1 Z","size":144,"filled":true,"color":"#000","opacity":0.14,"xOffset":-4,"strokeWidth":0},"encoding":{
  "x":{"field":"end","type":"quantitative","scale":{"domain":[-147,10424],"nice":false,"zero":false},"axis":null},
  "y":{"field":"lane","type":"quantitative","scale":{"domain":[0.41935,5.25806],"nice":false,"zero":false},"axis":null}}},
 {"data":{"name":"l4"},"transform":[{"filter":"datum.top==2"}],"mark":{"type":"rule","color":"#444","strokeWidth":0.9,"yOffset":4,"y2Offset":-28},"encoding":{
  "x":{"field":"pos","type":"quantitative","scale":{"domain":[-147,10424],"nice":false,"zero":false},"axis":null},
  "y":{"field":"lane","type":"quantitative","scale":{"domain":[0.41935,5.25806],"nice":false,"zero":false},"axis":null},"y2":{"datum":3}}},
 {"data":{"name":"l4"},"transform":[{"filter":"datum.top==1"}],"mark":{"type":"rule","color":"#444","strokeWidth":0.9,"yOffset":4,"y2Offset":-38},"encoding":{
  "x":{"field":"pos","type":"quantitative","scale":{"domain":[-147,10424],"nice":false,"zero":false},"axis":null},
  "y":{"field":"lane","type":"quantitative","scale":{"domain":[0.41935,5.25806],"nice":false,"zero":false},"axis":null},"y2":{"datum":3}}},
 {"data":{"name":"f4"},"transform":[{"filter":"datum.row==1"}],"mark":{"type":"text","align":"left","baseline":"middle","dx":1,"dy":-34,"fontSize":8,"color":"#333"},"encoding":{
  "x":{"field":"start","type":"quantitative","scale":{"domain":[-147,10424],"nice":false,"zero":false},"axis":null},
  "y":{"datum":3,"type":"quantitative","scale":{"domain":[0.41935,5.25806],"nice":false,"zero":false},"axis":null},"text":{"field":"name"}}},
 {"data":{"name":"f4"},"transform":[{"filter":"datum.row==2"}],"mark":{"type":"text","align":"left","baseline":"middle","dx":1,"dy":-24,"fontSize":8,"color":"#333"},"encoding":{
  "x":{"field":"start","type":"quantitative","scale":{"domain":[-147,10424],"nice":false,"zero":false},"axis":null},
  "y":{"datum":3,"type":"quantitative","scale":{"domain":[0.41935,5.25806],"nice":false,"zero":false},"axis":null},"text":{"field":"name"}}},
 {"data":{"name":"f4"},"transform":[{"filter":"datum.row==3"}],"mark":{"type":"text","align":"left","baseline":"middle","dx":1,"dy":-15,"fontSize":8,"color":"#333"},"encoding":{
  "x":{"field":"start","type":"quantitative","scale":{"domain":[-147,10424],"nice":false,"zero":false},"axis":null},
  "y":{"datum":3,"type":"quantitative","scale":{"domain":[0.41935,5.25806],"nice":false,"zero":false},"axis":null},"text":{"field":"name"}}}
]},
{"width":690,"height":73,"layer":[
 {"data":{"name":"g4"},"mark":{"type":"rect","color":"#e3e3e3"},"encoding":{"x":{"field":"start","type":"quantitative","scale":{"domain":[-147,10424],"nice":false,"zero":false},"axis":null},"x2":{"field":"end"},"y":{"datum":0,"type":"quantitative","scale":{"domain":[-601.6,374.3],"nice":false,"zero":false},"axis":null},"y2":{"datum":254}}},
 {"data":{"name":"c4"},"mark":{"type":"area","color":"#f4a6a6"},"encoding":{"x":{"field":"p","type":"quantitative","scale":{"domain":[-147,10424],"nice":false,"zero":false},"axis":null},"y":{"field":"c","type":"quantitative","scale":{"domain":[-601.6,374.3],"nice":false,"zero":false},"axis":null},"y2":{"datum":0}}},
 {"data":{"name":"c4"},"mark":{"type":"line","color":"#444","strokeWidth":0.8},"encoding":{"x":{"field":"p","type":"quantitative","scale":{"domain":[-147,10424],"nice":false,"zero":false},"axis":null},"y":{"field":"c","type":"quantitative","scale":{"domain":[-601.6,374.3],"nice":false,"zero":false},"axis":null}}},
 {"data":{"name":"g4"},"mark":{"type":"rule","color":"#333","strokeWidth":1.2},"encoding":{"x":{"field":"start","type":"quantitative","scale":{"domain":[-147,10424],"nice":false,"zero":false},"axis":null},"x2":{"field":"end"},"y":{"datum":254,"type":"quantitative","scale":{"domain":[-601.6,374.3],"nice":false,"zero":false},"axis":null}}},
 {"data":{"name":"g4"},"mark":{"type":"rule","color":"#555","strokeWidth":0.8},"encoding":{"x":{"field":"start","type":"quantitative","scale":{"domain":[-147,10424],"nice":false,"zero":false},"axis":null},"x2":{"field":"end"},"y":{"datum":0,"type":"quantitative","scale":{"domain":[-601.6,374.3],"nice":false,"zero":false},"axis":null}}},
 {"data":{"name":"g4"},"mark":{"type":"rule","color":"#333","strokeWidth":2,"yOffset":-6},"encoding":{"x":{"field":"start","type":"quantitative","scale":{"domain":[-147,10424],"nice":false,"zero":false},"axis":null},"x2":{"field":"end"},"y":{"datum":254,"type":"quantitative","scale":{"domain":[-601.6,374.3],"nice":false,"zero":false},"axis":null}}},
 {"data":{"name":"g4"},"mark":{"type":"text","text":"Consensus","align":"left","baseline":"middle","dx":-45,"dy":-6.5,"fontSize":8.5,"font":"Lato","color":"#222"},"encoding":{"x":{"field":"start","type":"quantitative","scale":{"domain":[-147,10424],"nice":false,"zero":false},"axis":null},"y":{"datum":254,"type":"quantitative","scale":{"domain":[-601.6,374.3],"nice":false,"zero":false},"axis":null}}},
 {"data":{"name":"g4"},"mark":{"type":"text","text":"Coverage","align":"left","baseline":"middle","dx":-41,"fontSize":8.5,"font":"Lato","color":"#222"},"encoding":{"x":{"field":"start","type":"quantitative","scale":{"domain":[-147,10424],"nice":false,"zero":false},"axis":null},"y":{"datum":127,"type":"quantitative","scale":{"domain":[-601.6,374.3],"nice":false,"zero":false},"axis":null}}},
 {"data":{"name":"g4"},"mark":{"type":"text","text":"254","align":"right","baseline":"middle","dx":-2,"dy":1.5,"fontSize":4.5,"color":"#333"},"encoding":{"x":{"field":"start","type":"quantitative","scale":{"domain":[-147,10424],"nice":false,"zero":false},"axis":null},"y":{"datum":254,"type":"quantitative","scale":{"domain":[-601.6,374.3],"nice":false,"zero":false},"axis":null}}},
 {"data":{"name":"g4"},"mark":{"type":"text","text":"0","align":"right","baseline":"middle","dx":-3,"fontSize":4.5,"color":"#333"},"encoding":{"x":{"field":"start","type":"quantitative","scale":{"domain":[-147,10424],"nice":false,"zero":false},"axis":null},"y":{"datum":0,"type":"quantitative","scale":{"domain":[-601.6,374.3],"nice":false,"zero":false},"axis":null}}}
]},
{"width":690,"height":28,"resolve":{"axis":{"x":"independent","y":"independent"}},"layer":[
 {"data":{"name":"g5"},"mark":{"type":"rule","color":"#333","strokeWidth":1.5,"yOffset":7},"encoding":{
  "x":{"field":"start","type":"quantitative","scale":{"domain":[-65,11766],"nice":false,"zero":false},"axis":{"orient":"top","values":[1000,2000,3000,4000,5000,6000,7000,8000,9000,10000,11000],"labelExpr":"replace(format(datum.value, ','), ',', ' ')","labelFontSize":5.5,"labelColor":"#444","labelPadding":0,"ticks":true,"tickSize":3,"tickColor":"#333","tickWidth":1,"domain":false,"grid":false,"title":"/ WhTV2-Thailand virus","titleX":47,"titleY":-24,"titleAlign":"left","titleBaseline":"middle","titleAngle":0,"titleFont":"Lato","titleFontSize":14,"titleFontWeight":"bold","titleColor":"#000"}},
  "x2":{"field":"end"},
  "y":{"datum":1,"type":"quantitative","scale":{"domain":[0.5625,2.3125],"nice":false,"zero":false},"axis":{"title":"Chuviridae","titleX":-26,"titleY":-24,"titleAlign":"left","titleBaseline":"middle","titleAngle":0,"titleFont":"Lato","titleFontSize":14,"titleFontWeight":"bold","titleFontStyle":"italic","titleColor":"#000","labels":false,"ticks":false,"domain":false,"grid":false}}}},
 {"data":{"name":"g5"},"transform":[{"fold":["start","end"]}],"mark":{"type":"point","shape":"circle","size":10,"filled":false,"color":"#888","strokeWidth":0.7,"yOffset":7},"encoding":{
  "x":{"field":"value","type":"quantitative","scale":{"domain":[-65,11766],"nice":false,"zero":false},"axis":null},
  "y":{"datum":1,"type":"quantitative","scale":{"domain":[0.5625,2.3125],"nice":false,"zero":false},"axis":null}}},
 {"data":{"name":"f5"},"mark":{"type":"rect","yOffset":-3,"y2Offset":3,"x2Offset":-4.3},"encoding":{
  "x":{"field":"start","type":"quantitative","scale":{"domain":[-65,11766],"nice":false,"zero":false},"axis":null},"x2":{"field":"end"},
  "y":{"field":"lane","type":"quantitative","scale":{"domain":[0.5625,2.3125],"nice":false,"zero":false},"axis":null},"y2":{"field":"lane"},
  "color":{"field":"kind","type":"nominal","scale":{"domain":["Segments","ORF","Putative envelope protein"],"range":["#24bdcc","#c4c721","#cd5d5d"]},"legend":null}}},
 {"data":{"name":"f5"},"mark":{"type":"rect","yOffset":-3,"y2Offset":3,"x2Offset":-4.3,"fill":{"gradient":"linear","x1":0,"y1":0,"x2":1,"y2":0,"stops":[{"offset":0,"color":"rgba(255,255,255,0.42)"},{"offset":0.55,"color":"rgba(255,255,255,0.05)"},{"offset":1,"color":"rgba(0,0,0,0.13)"}]},"stroke":"rgba(0,0,0,0.2)","strokeWidth":0.5},"encoding":{
  "x":{"field":"start","type":"quantitative","scale":{"domain":[-65,11766],"nice":false,"zero":false},"axis":null},"x2":{"field":"end"},
  "y":{"field":"lane","type":"quantitative","scale":{"domain":[0.5625,2.3125],"nice":false,"zero":false},"axis":null},"y2":{"field":"lane"}}},
 {"data":{"name":"f5"},"mark":{"type":"point","shape":"M -0.67 -1 L 0.67 0 L -0.67 1 Z","size":100,"filled":true,"opacity":1,"xOffset":-3.35,"strokeWidth":0},"encoding":{
  "x":{"field":"end","type":"quantitative","scale":{"domain":[-65,11766],"nice":false,"zero":false},"axis":null},
  "y":{"field":"lane","type":"quantitative","scale":{"domain":[0.5625,2.3125],"nice":false,"zero":false},"axis":null},
  "color":{"field":"kind","type":"nominal","scale":{"domain":["Segments","ORF","Putative envelope protein"],"range":["#24bdcc","#c4c721","#cd5d5d"]},"legend":null}}},
 {"data":{"name":"f5"},"mark":{"type":"point","shape":"M -0.67 -1 L 0.67 0 L -0.67 1 Z","size":100,"filled":true,"color":"#000","opacity":0.14,"xOffset":-3.35,"strokeWidth":0},"encoding":{
  "x":{"field":"end","type":"quantitative","scale":{"domain":[-65,11766],"nice":false,"zero":false},"axis":null},
  "y":{"field":"lane","type":"quantitative","scale":{"domain":[0.5625,2.3125],"nice":false,"zero":false},"axis":null}}},
 {"data":{"name":"l5"},"mark":{"type":"rule","color":"#555","strokeWidth":0.8,"y2Offset":-15},"encoding":{
  "x":{"field":"pos","type":"quantitative","scale":{"domain":[-65,11766],"nice":false,"zero":false},"axis":null},
  "y":{"field":"lane","type":"quantitative","scale":{"domain":[0.5625,2.3125],"nice":false,"zero":false},"axis":null},"y2":{"datum":1}}},
 {"data":{"name":"f5"},"mark":{"type":"text","align":"left","baseline":"middle","dx":1,"dy":-12,"fontSize":6,"color":"#444"},"encoding":{
  "x":{"field":"start","type":"quantitative","scale":{"domain":[-65,11766],"nice":false,"zero":false},"axis":null},
  "y":{"datum":1,"type":"quantitative","scale":{"domain":[0.5625,2.3125],"nice":false,"zero":false},"axis":null},"text":{"field":"name"}}}
]},
{"width":690,"height":70,"layer":[
 {"data":{"name":"g5"},"mark":{"type":"rect","color":"#e3e3e3"},"encoding":{"x":{"field":"start","type":"quantitative","scale":{"domain":[-65,11766],"nice":false,"zero":false},"axis":null},"x2":{"field":"end"},"y":{"datum":0,"type":"quantitative","scale":{"domain":[-354.9,209.7],"nice":false,"zero":false},"axis":null},"y2":{"datum":121}}},
 {"data":{"name":"c5"},"mark":{"type":"area","color":"#f4a6a6"},"encoding":{"x":{"field":"p","type":"quantitative","scale":{"domain":[-65,11766],"nice":false,"zero":false},"axis":null},"y":{"field":"c","type":"quantitative","scale":{"domain":[-354.9,209.7],"nice":false,"zero":false},"axis":null},"y2":{"datum":0}}},
 {"data":{"name":"c5"},"mark":{"type":"line","color":"#444","strokeWidth":0.7},"encoding":{"x":{"field":"p","type":"quantitative","scale":{"domain":[-65,11766],"nice":false,"zero":false},"axis":null},"y":{"field":"c","type":"quantitative","scale":{"domain":[-354.9,209.7],"nice":false,"zero":false},"axis":null}}},
 {"data":{"name":"g5"},"mark":{"type":"rule","color":"#555","strokeWidth":1},"encoding":{"x":{"field":"start","type":"quantitative","scale":{"domain":[-65,11766],"nice":false,"zero":false},"axis":null},"x2":{"field":"end"},"y":{"datum":121,"type":"quantitative","scale":{"domain":[-354.9,209.7],"nice":false,"zero":false},"axis":null}}},
 {"data":{"name":"g5"},"mark":{"type":"rule","color":"#555","strokeWidth":0.8},"encoding":{"x":{"field":"start","type":"quantitative","scale":{"domain":[-65,11766],"nice":false,"zero":false},"axis":null},"x2":{"field":"end"},"y":{"datum":0,"type":"quantitative","scale":{"domain":[-354.9,209.7],"nice":false,"zero":false},"axis":null}}},
 {"data":{"name":"g5"},"mark":{"type":"rule","color":"#333","strokeWidth":1.5,"yOffset":-5},"encoding":{"x":{"field":"start","type":"quantitative","scale":{"domain":[-65,11766],"nice":false,"zero":false},"axis":null},"x2":{"field":"end"},"y":{"datum":121,"type":"quantitative","scale":{"domain":[-354.9,209.7],"nice":false,"zero":false},"axis":null}}},
 {"data":{"name":"g5"},"transform":[{"fold":["start","end"]}],"mark":{"type":"point","shape":"circle","size":10,"filled":false,"color":"#888","strokeWidth":0.7,"yOffset":-5},"encoding":{"x":{"field":"value","type":"quantitative","scale":{"domain":[-65,11766],"nice":false,"zero":false},"axis":null},"y":{"datum":121,"type":"quantitative","scale":{"domain":[-354.9,209.7],"nice":false,"zero":false},"axis":null}}},
 {"data":{"name":"g5"},"mark":{"type":"text","text":"Consensus","align":"left","baseline":"middle","dx":-37,"dy":-5,"fontSize":7,"color":"#222"},"encoding":{"x":{"field":"start","type":"quantitative","scale":{"domain":[-65,11766],"nice":false,"zero":false},"axis":null},"y":{"datum":121,"type":"quantitative","scale":{"domain":[-354.9,209.7],"nice":false,"zero":false},"axis":null}}},
 {"data":{"name":"g5"},"mark":{"type":"text","text":"Coverage","align":"left","baseline":"middle","dx":-32,"fontSize":7,"color":"#222"},"encoding":{"x":{"field":"start","type":"quantitative","scale":{"domain":[-65,11766],"nice":false,"zero":false},"axis":null},"y":{"datum":60.5,"type":"quantitative","scale":{"domain":[-354.9,209.7],"nice":false,"zero":false},"axis":null}}},
 {"data":{"name":"g5"},"mark":{"type":"text","text":"121","align":"right","baseline":"middle","dx":-3,"dy":1,"fontSize":4.5,"color":"#333"},"encoding":{"x":{"field":"start","type":"quantitative","scale":{"domain":[-65,11766],"nice":false,"zero":false},"axis":null},"y":{"datum":121,"type":"quantitative","scale":{"domain":[-354.9,209.7],"nice":false,"zero":false},"axis":null}}},
 {"data":{"name":"g5"},"mark":{"type":"text","text":"0","align":"right","baseline":"middle","dx":-3,"fontSize":4.5,"color":"#333"},"encoding":{"x":{"field":"start","type":"quantitative","scale":{"domain":[-65,11766],"nice":false,"zero":false},"axis":null},"y":{"datum":0,"type":"quantitative","scale":{"domain":[-354.9,209.7],"nice":false,"zero":false},"axis":null}}}
]},
{"width":690,"height":46,"resolve":{"axis":{"x":"independent","y":"independent"}},"layer":[
 {"data":{"name":"g6"},"mark":{"type":"rule","color":"#555","strokeWidth":2,"yOffset":6},"encoding":{
  "x":{"field":"start","type":"quantitative","scale":{"domain":[-38,10390],"nice":false,"zero":false},"axis":{"orient":"top","values":[1000,2000,3000,4000,5000,6000,7000,8000,9000,10000],"labelExpr":"replace(format(datum.value, ','), ',', ' ')","labelFontSize":5.5,"labelColor":"#444","labelPadding":0,"ticks":true,"tickSize":3,"tickColor":"#333","tickWidth":1,"domain":false,"grid":false,"title":"/ CpTV2-Thailand virus","titleX":47,"titleY":-22,"titleAlign":"left","titleBaseline":"middle","titleAngle":0,"titleFont":"Lato","titleFontSize":14,"titleFontWeight":"bold","titleColor":"#000"}},
  "x2":{"field":"end"},
  "y":{"datum":1,"type":"quantitative","scale":{"domain":[0.45455,4.63636],"nice":false,"zero":false},"axis":{"title":"Chuviridae","titleX":-26,"titleY":-22,"titleAlign":"left","titleBaseline":"middle","titleAngle":0,"titleFont":"Lato","titleFontSize":14,"titleFontWeight":"bold","titleFontStyle":"italic","titleColor":"#000","labels":false,"ticks":false,"domain":false,"grid":false}}}},
 {"data":{"name":"g6"},"transform":[{"fold":["start","end"]}],"mark":{"type":"point","shape":"circle","size":10,"filled":false,"color":"#888","strokeWidth":0.7,"yOffset":6},"encoding":{
  "x":{"field":"value","type":"quantitative","scale":{"domain":[-38,10390],"nice":false,"zero":false},"axis":null},
  "y":{"datum":1,"type":"quantitative","scale":{"domain":[0.45455,4.63636],"nice":false,"zero":false},"axis":null}}},
 {"data":{"name":"f6"},"mark":{"type":"rect","yOffset":-3.5,"y2Offset":3.5,"x2Offset":-5},"encoding":{
  "x":{"field":"start","type":"quantitative","scale":{"domain":[-38,10390],"nice":false,"zero":false},"axis":null},"x2":{"field":"end"},
  "y":{"field":"lane","type":"quantitative","scale":{"domain":[0.45455,4.63636],"nice":false,"zero":false},"axis":null},"y2":{"field":"lane"},
  "color":{"field":"kind","type":"nominal","scale":{"domain":["Segments","ORF","Putative envelope protein"],"range":["#24bdcc","#c4c721","#cd5d5d"]},"legend":null}}},
 {"data":{"name":"f6"},"mark":{"type":"rect","yOffset":-3.5,"y2Offset":3.5,"x2Offset":-5,"fill":{"gradient":"linear","x1":0,"y1":0,"x2":1,"y2":0,"stops":[{"offset":0,"color":"rgba(255,255,255,0.42)"},{"offset":0.55,"color":"rgba(255,255,255,0.05)"},{"offset":1,"color":"rgba(0,0,0,0.13)"}]},"stroke":"rgba(0,0,0,0.2)","strokeWidth":0.5},"encoding":{
  "x":{"field":"start","type":"quantitative","scale":{"domain":[-38,10390],"nice":false,"zero":false},"axis":null},"x2":{"field":"end"},
  "y":{"field":"lane","type":"quantitative","scale":{"domain":[0.45455,4.63636],"nice":false,"zero":false},"axis":null},"y2":{"field":"lane"}}},
 {"data":{"name":"f6"},"mark":{"type":"point","shape":"M -0.67 -1 L 0.67 0 L -0.67 1 Z","size":100,"filled":true,"opacity":1,"xOffset":-3.35,"strokeWidth":0},"encoding":{
  "x":{"field":"end","type":"quantitative","scale":{"domain":[-38,10390],"nice":false,"zero":false},"axis":null},
  "y":{"field":"lane","type":"quantitative","scale":{"domain":[0.45455,4.63636],"nice":false,"zero":false},"axis":null},
  "color":{"field":"kind","type":"nominal","scale":{"domain":["Segments","ORF","Putative envelope protein"],"range":["#24bdcc","#c4c721","#cd5d5d"]},"legend":null}}},
 {"data":{"name":"f6"},"mark":{"type":"point","shape":"M -0.67 -1 L 0.67 0 L -0.67 1 Z","size":100,"filled":true,"color":"#000","opacity":0.14,"xOffset":-3.35,"strokeWidth":0},"encoding":{
  "x":{"field":"end","type":"quantitative","scale":{"domain":[-38,10390],"nice":false,"zero":false},"axis":null},
  "y":{"field":"lane","type":"quantitative","scale":{"domain":[0.45455,4.63636],"nice":false,"zero":false},"axis":null}}},
 {"data":{"name":"l6"},"transform":[{"filter":"datum.top==1"}],"mark":{"type":"rule","color":"#555","strokeWidth":0.8,"yOffset":3,"y2Offset":-24},"encoding":{
  "x":{"field":"pos","type":"quantitative","scale":{"domain":[-38,10390],"nice":false,"zero":false},"axis":null},
  "y":{"field":"lane","type":"quantitative","scale":{"domain":[0.45455,4.63636],"nice":false,"zero":false},"axis":null},"y2":{"datum":2}}},
 {"data":{"name":"l6"},"transform":[{"filter":"datum.top==2"}],"mark":{"type":"rule","color":"#555","strokeWidth":0.8,"yOffset":3,"y2Offset":-15},"encoding":{
  "x":{"field":"pos","type":"quantitative","scale":{"domain":[-38,10390],"nice":false,"zero":false},"axis":null},
  "y":{"field":"lane","type":"quantitative","scale":{"domain":[0.45455,4.63636],"nice":false,"zero":false},"axis":null},"y2":{"datum":2}}},
 {"data":{"name":"f6"},"transform":[{"filter":"datum.row==1"}],"mark":{"type":"text","align":"left","baseline":"middle","dx":1,"dy":-21,"fontSize":6,"color":"#444"},"encoding":{
  "x":{"field":"start","type":"quantitative","scale":{"domain":[-38,10390],"nice":false,"zero":false},"axis":null},
  "y":{"datum":2,"type":"quantitative","scale":{"domain":[0.45455,4.63636],"nice":false,"zero":false},"axis":null},"text":{"field":"name"}}},
 {"data":{"name":"f6"},"transform":[{"filter":"datum.row==2"}],"mark":{"type":"text","align":"left","baseline":"middle","dx":1,"dy":-12,"fontSize":6,"color":"#444"},"encoding":{
  "x":{"field":"start","type":"quantitative","scale":{"domain":[-38,10390],"nice":false,"zero":false},"axis":null},
  "y":{"datum":2,"type":"quantitative","scale":{"domain":[0.45455,4.63636],"nice":false,"zero":false},"axis":null},"text":{"field":"name"}}}
]},
{"width":690,"height":26,"layer":[
 {"data":{"name":"g6"},"mark":{"type":"rect","color":"#e3e3e3"},"encoding":{"x":{"field":"start","type":"quantitative","scale":{"domain":[-38,10390],"nice":false,"zero":false},"axis":null},"x2":{"field":"end"},"y":{"datum":0,"type":"quantitative","scale":{"domain":[0,32.93],"nice":false,"zero":false},"axis":null},"y2":{"datum":19}}},
 {"data":{"name":"c6"},"mark":{"type":"area","color":"#f4a6a6"},"encoding":{"x":{"field":"p","type":"quantitative","scale":{"domain":[-38,10390],"nice":false,"zero":false},"axis":null},"y":{"field":"c","type":"quantitative","scale":{"domain":[0,32.93],"nice":false,"zero":false},"axis":null},"y2":{"datum":0}}},
 {"data":{"name":"c6"},"mark":{"type":"line","color":"#444","strokeWidth":0.7},"encoding":{"x":{"field":"p","type":"quantitative","scale":{"domain":[-38,10390],"nice":false,"zero":false},"axis":null},"y":{"field":"c","type":"quantitative","scale":{"domain":[0,32.93],"nice":false,"zero":false},"axis":null}}},
 {"data":{"name":"g6"},"mark":{"type":"rule","color":"#777","strokeWidth":1},"encoding":{"x":{"field":"start","type":"quantitative","scale":{"domain":[-38,10390],"nice":false,"zero":false},"axis":null},"x2":{"field":"end"},"y":{"datum":19,"type":"quantitative","scale":{"domain":[0,32.93],"nice":false,"zero":false},"axis":null}}},
 {"data":{"name":"g6"},"mark":{"type":"rule","color":"#555","strokeWidth":0.8},"encoding":{"x":{"field":"start","type":"quantitative","scale":{"domain":[-38,10390],"nice":false,"zero":false},"axis":null},"x2":{"field":"end"},"y":{"datum":0,"type":"quantitative","scale":{"domain":[0,32.93],"nice":false,"zero":false},"axis":null}}},
 {"data":{"name":"g6"},"mark":{"type":"rule","color":"#444","strokeWidth":1.8,"yOffset":-5},"encoding":{"x":{"field":"start","type":"quantitative","scale":{"domain":[-38,10390],"nice":false,"zero":false},"axis":null},"x2":{"field":"end"},"y":{"datum":19,"type":"quantitative","scale":{"domain":[0,32.93],"nice":false,"zero":false},"axis":null}}},
 {"data":{"name":"g6"},"transform":[{"fold":["start","end"]}],"mark":{"type":"point","shape":"circle","size":10,"filled":false,"color":"#888","strokeWidth":0.7,"yOffset":-5},"encoding":{"x":{"field":"value","type":"quantitative","scale":{"domain":[-38,10390],"nice":false,"zero":false},"axis":null},"y":{"datum":19,"type":"quantitative","scale":{"domain":[0,32.93],"nice":false,"zero":false},"axis":null}}},
 {"data":{"name":"g6"},"mark":{"type":"text","text":"Consensus","align":"left","baseline":"middle","dx":-38,"dy":-5,"fontSize":7,"color":"#222"},"encoding":{"x":{"field":"start","type":"quantitative","scale":{"domain":[-38,10390],"nice":false,"zero":false},"axis":null},"y":{"datum":19,"type":"quantitative","scale":{"domain":[0,32.93],"nice":false,"zero":false},"axis":null}}},
 {"data":{"name":"g6"},"mark":{"type":"text","text":"Coverage","align":"left","baseline":"middle","dx":-33,"fontSize":7,"color":"#222"},"encoding":{"x":{"field":"start","type":"quantitative","scale":{"domain":[-38,10390],"nice":false,"zero":false},"axis":null},"y":{"datum":9.5,"type":"quantitative","scale":{"domain":[0,32.93],"nice":false,"zero":false},"axis":null}}},
 {"data":{"name":"g6"},"mark":{"type":"text","text":"19","align":"right","baseline":"middle","dx":-3,"dy":1,"fontSize":4.5,"color":"#333"},"encoding":{"x":{"field":"start","type":"quantitative","scale":{"domain":[-38,10390],"nice":false,"zero":false},"axis":null},"y":{"datum":19,"type":"quantitative","scale":{"domain":[0,32.93],"nice":false,"zero":false},"axis":null}}},
 {"data":{"name":"g6"},"mark":{"type":"text","text":"0","align":"right","baseline":"middle","dx":-3,"fontSize":4.5,"color":"#333"},"encoding":{"x":{"field":"start","type":"quantitative","scale":{"domain":[-38,10390],"nice":false,"zero":false},"axis":null},"y":{"datum":0,"type":"quantitative","scale":{"domain":[0,32.93],"nice":false,"zero":false},"axis":null}}}
]}
]
}
